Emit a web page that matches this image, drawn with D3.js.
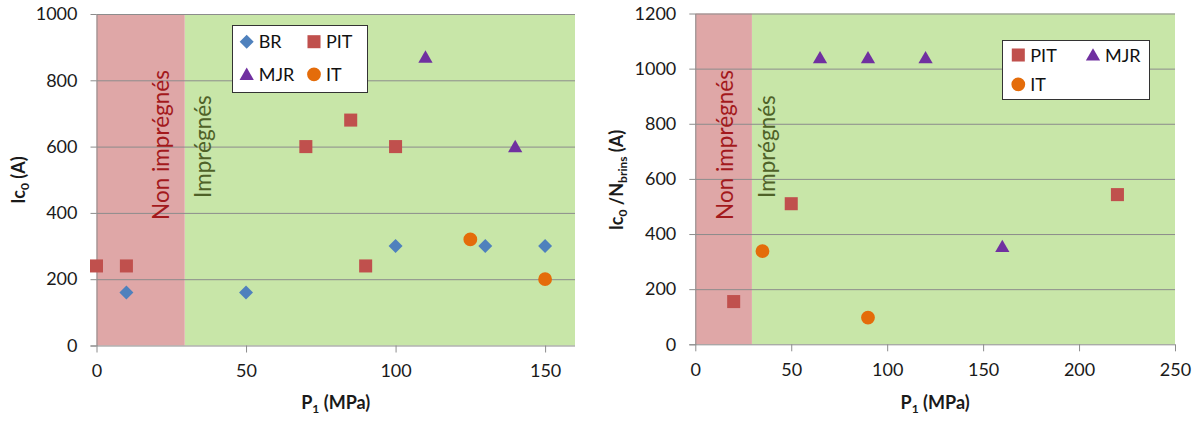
<!DOCTYPE html>
<html><head><meta charset="utf-8">
<script src="https://cdn.jsdelivr.net/npm/d3@7"></script>
<style>
body{margin:0;background:#fff;}
svg{display:block;font-family:Lato,"Open Sans",sans-serif;}
</style></head>
<body><svg id="c" width="1198" height="421"></svg>
<script>
// ---- Data ----
const leftBR  = [[10,160],[50,160],[100,300],[130,300],[150,300]];
const leftPIT = [[0,240],[10,240],[70,600],[85,680],[100,600],[90,240]];
const leftMJR = [[110,870],[140,600]];
const leftIT  = [[125,320],[150,200]];

const rightPIT = [[20,155],[50,510],[220,543]];
const rightMJR = [[65,1040],[90,1040],[120,1040],[160,355]];
const rightIT  = [[35,338],[90,97]];

const leftXTicks  = [0,50,100,150];
const leftYTicks  = [0,200,400,600,800,1000];
const rightXTicks = [0,50,100,150,200,250];
const rightYTicks = [0,200,400,600,800,1000,1200];

const leftXDomain = [0,160], leftYDomain = [0,1000];
const rightXDomain = [0,250], rightYDomain = [0,1200];
const zoneLimit = [0,29.5]; // "Non imprégnés" zone in P1 (MPa)

const colors = {BR:"#4f81bd", PIT:"#c0504d", MJR:"#7030a0", IT:"#e46c0a"};

const svg = d3.select("#c");

function marker(g, type){
  let p;
  if(type==="BR") p = g.append("path").attr("d", d3.symbol(d3.symbolSquare, 98)());
  else if(type==="PIT") p = g.append("path").attr("d", d3.symbol(d3.symbolSquare, 170)());
  else if(type==="MJR") p = g.append("path").attr("d", d3.symbol(d3.symbolTriangle, 88)());
  else p = g.append("path").attr("d", d3.symbol(d3.symbolCircle, 150)());
  p.attr("fill", colors[type]);
  return p;
}

function drawChart(cfg){
  const x = d3.scaleLinear().domain(cfg.xDomain).range(cfg.xRange);
  const y = d3.scaleLinear().domain(cfg.yDomain).range(cfg.yRange);
  const g = svg.append("g");
  const [x0,x1] = cfg.xRange, [yb,yt] = cfg.yRange;

  // background zones
  g.append("rect").attr("x", x(zoneLimit[1])).attr("y", yt)
    .attr("width", x(cfg.xDomain[1]) - x(zoneLimit[1])).attr("height", yb-yt).attr("fill","#c8e6a8");
  g.append("rect").attr("x", x(zoneLimit[0])).attr("y", yt)
    .attr("width", x(zoneLimit[1]) - x(zoneLimit[0])).attr("height", yb-yt).attr("fill","#dfa7a7");

  // gridlines
  g.append("g").selectAll("line").data(cfg.yTicks.filter(d=>d>0)).join("line")
    .attr("x1", x0).attr("x2", x1).attr("y1", d=>y(d)+0.5).attr("y2", d=>y(d)+0.5)
    .attr("stroke","#8c8c8c").attr("stroke-width",1);

  // axes
  const fmt = d3.format("d");
  const ya = g.append("g").attr("transform",`translate(${x0},0)`)
    .call(d3.axisLeft(y).tickValues(cfg.yTicks).tickFormat(fmt).tickSize(6).tickPadding(13).tickSizeOuter(0));
  const xa = g.append("g").attr("transform",`translate(0,${yb})`)
    .call(d3.axisBottom(x).tickValues(cfg.xTicks).tickFormat(fmt).tickSize(7).tickPadding(12).tickSizeOuter(0));
  [ya,xa].forEach(a=>{
    a.selectAll("path").attr("stroke","#8c8c8c");
    a.selectAll("line").attr("stroke","#8c8c8c");
    a.selectAll("text").attr("font-size",18).attr("fill","#1a1a1a").attr("font-family","Lato");
  });
  xa.select("path.domain").attr("d", `M${x0-6},0.5H${x1}`);

  // zone labels
  g.append("text").attr("transform",`translate(${cfg.nonX},145) rotate(-90)`)
    .attr("text-anchor","middle").attr("font-size",22.5).attr("fill","#a3191c").text("Non imprégnés");
  g.append("text").attr("transform",`translate(${cfg.impX},146.5) rotate(-90)`)
    .attr("text-anchor","middle").attr("font-size",22.5).attr("fill","#4f6228").text("Imprégnés");

  // points
  cfg.series.forEach(s=>{
    s.data.forEach(d=>{
      const m = marker(g, s.name);
      const rot = s.name==="BR" ? " rotate(45)" : "";
      const dy = s.name==="MJR" ? 1.5 : 0;
      m.attr("transform", `translate(${x(d[0])},${y(d[1])+dy})${rot}`);
    });
  });

  // legend
  const L = cfg.legend;
  const lg = g.append("g");
  lg.append("rect").attr("x",L.x+0.5).attr("y",L.y+0.5).attr("width",L.w).attr("height",L.h)
    .attr("fill","#fff").attr("stroke","#333").attr("stroke-width",1);
  L.items.forEach(it=>{
    const m = marker(lg, it.name);
    const rot = it.name==="BR" ? " rotate(45)" : "";
    const dy = it.name==="MJR" ? 1.5 : 0;
    m.attr("transform",`translate(${it.mx},${it.my+dy})${rot}`);
    lg.append("text").attr("x",it.mx+12).attr("y",it.my+6.5).attr("font-size",18).attr("fill","#111").text(it.name);
  });

  // axis titles
  const xt = g.append("text").attr("x",(x0+x1)/2).attr("y",409).attr("text-anchor","middle")
    .attr("font-size",18).attr("font-weight","bold").attr("fill","#1a1a1a");
  xt.append("tspan").text("P");
  xt.append("tspan").attr("font-size",12).attr("dy",4).text("1");
  xt.append("tspan").attr("dy",-4).text(" (MPa)");

  const yt2 = g.append("text").attr("transform",`translate(${cfg.yTitleX},180) rotate(-90)`)
    .attr("text-anchor","middle").attr("font-size",18).attr("font-weight","bold").attr("fill","#1a1a1a");
  cfg.yTitle.forEach(p=>{
    const t = yt2.append("tspan").text(p.t);
    if(p.sub){ t.attr("font-size",12).attr("dy",4); }
    if(p.back){ t.attr("dy",-4); }
  });
}

drawChart({
  xDomain:leftXDomain, yDomain:leftYDomain, xRange:[96.5,575], yRange:[345.5,14],
  xTicks:leftXTicks, yTicks:leftYTicks, nonX:169, impX:211, yTitleX:25,
  series:[{name:"BR",data:leftBR},{name:"PIT",data:leftPIT},{name:"MJR",data:leftMJR},{name:"IT",data:leftIT}],
  legend:{x:232,y:25,w:135,h:67,items:[
    {name:"BR",mx:246.7,my:41.7},{name:"PIT",mx:314,my:41.7},
    {name:"MJR",mx:246.7,my:74.3},{name:"IT",mx:314,my:74.3}]},
  yTitle:[{t:"Ic"},{t:"0",sub:true},{t:" (A)",back:true}]
});

drawChart({
  xDomain:rightXDomain, yDomain:rightYDomain, xRange:[695.3,1175], yRange:[344.3,13.5],
  xTicks:rightXTicks, yTicks:rightYTicks, nonX:733, impX:775, yTitleX:623,
  series:[{name:"PIT",data:rightPIT},{name:"MJR",data:rightMJR},{name:"IT",data:rightIT}],
  legend:{x:1002,y:40,w:147,h:59,items:[
    {name:"PIT",mx:1018.3,my:55},{name:"MJR",mx:1093,my:55},{name:"IT",mx:1018.3,my:84.3}]},
  yTitle:[{t:"Ic"},{t:"0",sub:true},{t:" /N",back:true},{t:"brins",sub:true},{t:" (A)",back:true}]
});
</script></body></html>
